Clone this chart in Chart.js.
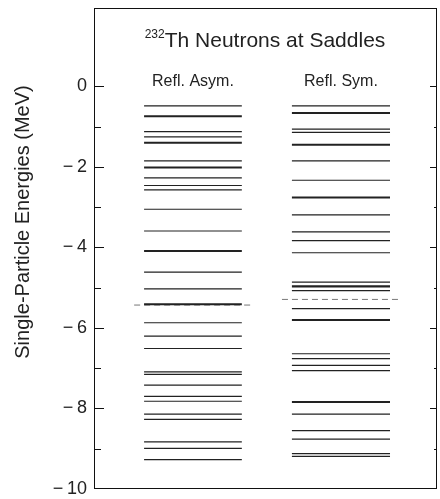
<!DOCTYPE html>
<html>
<head>
<meta charset="utf-8">
<script src="https://cdn.jsdelivr.net/npm/chart.js@4.4.0/dist/chart.umd.min.js"></script>
<style>
  body { margin: 0; background: #fff; }
  #wrap { width: 440px; height: 499px; }
</style>
</head>
<body>
<div id="wrap"><canvas id="levels"></canvas></div>
<script>
// single-particle levels (MeV)
const asymLevels = [-0.48, -0.73, -0.75, -1.12, -1.25, -1.39, -1.41, -1.85, -2.00, -2.02,
    -2.27, -2.46, -2.57, -3.05, -3.59, -4.08, -4.10, -4.61, -5.03, -5.40, -5.42,
    -5.87, -6.20, -6.51, -7.09, -7.15, -7.42, -7.70, -7.82, -8.14, -8.27, -8.83, -8.99, -9.27];
const symLevels = [-0.48, -0.65, -0.67, -1.06, -1.14, -1.44, -1.46, -1.85, -2.33, -2.75, -2.77,
    -3.19, -3.61, -3.83, -4.13, -4.86, -4.95, -4.98, -5.07, -5.52, -5.79, -5.81,
    -6.64, -6.76, -6.93, -7.06, -7.83, -7.85, -8.14, -8.55, -8.76, -9.12, -9.19];
const fermiLevels = [-5.43, -5.29];
const columnLabels = ["Refl. Asym.", "Refl. Sym."];
const yTicks = [0, -1, -2, -3, -4, -5, -6, -7, -8, -9, -10];

// horizontal extent of each column (fraction of plot width)
const colSpan = [[0.146, 0.431], [0.577, 0.863]];
const fermiSpan = [[0.117, 0.461], [0.548, 0.892]];

const FONT = "'Liberation Sans', Arial, sans-serif";

function segments(values, span) {
    const pts = [];
    values.forEach(function (e) {
        pts.push({ x: span[0], y: e }, { x: span[1], y: e }, { x: span[1], y: null });
    });
    return pts;
}

// frame, inward ticks and the texts on top
const decor = {
    id: "decor",
    afterDraw(chart) {
        const ctx = chart.ctx;
        const a = chart.chartArea;
        const ys = chart.scales.y;
        ctx.save();
        ctx.strokeStyle = "#111";
        ctx.lineWidth = 1;
        ctx.strokeRect(a.left + 0.5, a.top + 0.5, a.right - a.left - 1, a.bottom - a.top - 1);
        yTicks.forEach(function (v) {
            if (v === -10) return;
            const y = Math.round(ys.getPixelForValue(v)) + 0.5;
            const major = v % 2 === 0;
            ctx.beginPath();
            ctx.moveTo(a.left, y);
            ctx.lineTo(a.left + (major ? 10 : 7), y);
            ctx.moveTo(a.right, y);
            ctx.lineTo(a.right - (major ? 7 : 3), y);
            ctx.stroke();
        });

        ctx.fillStyle = "#222";
        ctx.textBaseline = "alphabetic";
        // title with superscript mass number
        const big = "21px " + FONT;
        const small = "12px " + FONT;
        const main = "Th Neutrons at Saddles";
        ctx.font = small;
        const wSup = ctx.measureText("232").width;
        ctx.font = big;
        const wMain = ctx.measureText(main).width;
        let x = 265 - (wSup + wMain) / 2;
        ctx.font = small;
        ctx.textAlign = "left";
        ctx.fillText("232", x, 38);
        ctx.font = big;
        ctx.fillText(main, x + wSup, 47);

        ctx.font = "16px " + FONT;
        ctx.textAlign = "center";
        const xs = chart.scales.x;
        columnLabels.forEach(function (t, i) {
            const cx = xs.getPixelForValue((colSpan[i][0] + colSpan[i][1]) / 2);
            ctx.fillText(t, cx, 86);
        });

        // axis title, rotated
        ctx.translate(23, 222);
        ctx.rotate(-Math.PI / 2);
        ctx.font = "20px " + FONT;
        ctx.textBaseline = "middle";
        ctx.fillText("Single-Particle Energies (MeV)", 0, 0);
        ctx.restore();
    }
};

new Chart(document.getElementById("levels"), {
    type: "line",
    data: {
        datasets: [
            {
                data: segments(asymLevels, colSpan[0]),
                borderColor: "#222",
                borderWidth: 1.2,
                pointRadius: 0,
                spanGaps: false,
            },
            {
                data: segments(symLevels, colSpan[1]),
                borderColor: "#222",
                borderWidth: 1.2,
                pointRadius: 0,
                spanGaps: false,
            },
            {
                data: segments([fermiLevels[0]], fermiSpan[0]).concat(segments([fermiLevels[1]], fermiSpan[1])),
                borderColor: "#777",
                borderWidth: 1,
                borderDash: [6, 4],
                pointRadius: 0,
                spanGaps: false,
            },
        ],
    },
    options: {
        responsive: true,
        maintainAspectRatio: false,
        animation: false,
        layout: { padding: { left: 0, right: 3, top: 0, bottom: 0 } },
        plugins: { legend: { display: false }, tooltip: { enabled: false } },
        scales: {
            x: { type: "linear", min: 0, max: 1, display: false },
            y: {
                min: -10,
                max: 1.95,
                afterFit: function (s) { s.width = 94; s.paddingTop = 8; s.paddingBottom = 10; },
                afterBuildTicks: function (s) {
                    s.ticks = yTicks.filter(function (v) { return v % 2 === 0; }).map(function (v) { return { value: v }; });
                },
                grid: { display: false, drawTicks: false },
                border: { display: false },
                ticks: {
                    padding: 7,
                    color: "#222",
                    font: { family: FONT, size: 18 },
                    callback: function (v) { return v === 0 ? "0" : "\u2212\u2009" + Math.abs(v); },
                },
            },
        },
    },
    plugins: [decor],
});
</script>
</body>
</html>
